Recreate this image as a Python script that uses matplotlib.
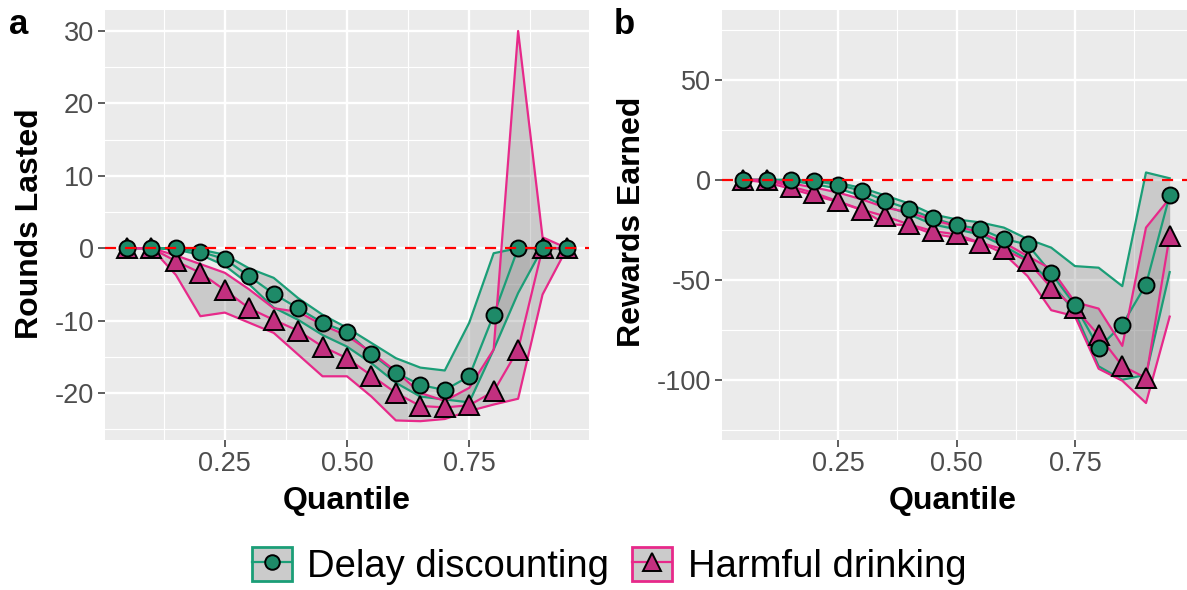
import matplotlib
matplotlib.use("Agg")
import matplotlib.pyplot as plt
from matplotlib.patches import Patch
from matplotlib.lines import Line2D

plt.rcParams['font.family'] = ['Liberation Sans', 'DejaVu Sans']
plt.rcParams['axes.unicode_minus'] = False

# ---------------- data ----------------
quantile = [0.05, 0.10, 0.15, 0.20, 0.25, 0.30, 0.35, 0.40, 0.45, 0.50,
            0.55, 0.60, 0.65, 0.70, 0.75, 0.80, 0.85, 0.90, 0.95]

# Panel a: Rounds Lasted
rounds_dd_mean = [0, 0, 0, -0.5, -1.5, -3.9, -6.3, -8.3, -10.3, -11.6,
                  -14.6, -17.2, -18.9, -19.6, -17.7, -9.2, 0, 0, 0]
rounds_dd_upper = [0, 0, 0, -0.2, -0.9, -2.8, -4.1, -6.9, -9.2, -11.0,
                   -13.1, -15.2, -16.5, -16.9, -10.3, -0.7, 0, 0, 0]
rounds_dd_lower = [0, 0, -0.2, -0.9, -2.4, -5.0, -8.2, -9.9, -12.0, -13.6,
                   -15.9, -18.6, -20.5, -20.9, -21.3, -14.0, -6.2, 0, 0]
rounds_hd_mean = [0, 0, -1.8, -3.4, -5.8, -8.3, -9.9, -11.4, -13.6, -15.2,
                  -17.6, -20.0, -21.8, -22.0, -21.7, -19.8, -14.0, 0, 0]
rounds_hd_upper = [0, 0, -1.0, -2.2, -3.4, -5.7, -8.3, -8.8, -10.6, -12.1,
                   -14.4, -17.0, -20.0, -21.1, -19.3, -14.0, 30.0, 1.5, 0]
rounds_hd_lower = [0, 0, -3.7, -9.4, -8.9, -10.3, -11.7, -14.7, -17.7, -17.7,
                   -20.5, -23.8, -23.9, -23.6, -22.5, -21.6, -20.8, -6.4, 0]

# Panel b: Rewards Earned
rewards_dd_mean = [0, 0, 0, -0.6, -2.4, -5.5, -10.5, -14.5, -19.2, -22.5,
                   -24.5, -29.5, -32.2, -46.5, -62.5, -83.8, -72.2, -52.2, -7.7]
rewards_dd_upper = [0, 0, 0, -0.5, -1.5, -4.0, -7.8, -11.8, -17.2, -19.7,
                    -21.2, -23.8, -29.5, -33.8, -43.0, -43.8, -53.0, 3.7, 0.8]
rewards_dd_lower = [0, 0, -0.5, -2.2, -4.3, -8.0, -13.0, -17.2, -22.2, -24.7,
                    -27.2, -33.0, -39.7, -51.3, -66.0, -93.0, -99.7, -97.2, -46.0]
rewards_hd_mean = [0, 0, -3.3, -6.5, -10.7, -14.8, -18.2, -22.2, -25.5, -27.2,
                   -31.3, -34.7, -40.5, -53.8, -64.0, -77.5, -92.8, -98.8, -27.8]
rewards_hd_upper = [0, 0, -1.7, -3.8, -6.3, -9.7, -13.8, -16.3, -20.0, -23.0,
                    -26.3, -31.3, -38.0, -44.5, -61.0, -64.2, -82.8, -23.8, -9.2]
rewards_hd_lower = [0, -1.3, -4.4, -7.8, -11.0, -15.0, -22.0, -22.7, -27.0, -28.8,
                    -31.3, -36.8, -48.0, -65.0, -68.0, -94.2, -100.2, -111.3, -68.2]

group_labels = ["Delay discounting", "Harmful drinking"]
x_ticks = [0.25, 0.50, 0.75]
x_ticklabels = ["0.25", "0.50", "0.75"]
a_yticks = [-20, -10, 0, 10, 20, 30]
b_yticks = [-100, -50, 0, 50]
panel_titles = ["Rounds Lasted", "Rewards Earned"]
panel_tags = ["a", "b"]

# ---------------- style ----------------
GREEN = "#1B9E77"
PINK = "#E7298A"
GREEN_FILL = "#1E8A68"
PINK_FILL = "#C2307F"
PANEL = "#EBEBEB"

W, H = 1187, 590
fig = plt.figure(figsize=(W / 100, H / 100), dpi=100)


def ax_at(l, r, t, b):
    return fig.add_axes([l / W, 1 - b / H, (r - l) / W, (b - t) / H])


axA = ax_at(105, 589, 10, 440)
axB = ax_at(722, 1191, 10, 440)


def draw(ax, dd, hd, ylim, yticks):
    ax.set_facecolor(PANEL)
    for s in ax.spines.values():
        s.set_visible(False)
    ax.set_axisbelow(True)
    # ribbons
    for (m, u, lo), col in ((dd, GREEN), (hd, PINK)):
        ax.fill_between(quantile, lo, u, color="#7F7F7F", alpha=0.3, lw=0, zorder=2)
    for (m, u, lo), col in ((dd, GREEN), (hd, PINK)):
        ax.plot(quantile, u, color=col, lw=1.6, zorder=3)
        ax.plot(quantile, lo, color=col, lw=1.6, zorder=3)
        ax.plot(quantile, m, color=col, lw=1.6, zorder=3)
    ax.plot(quantile, hd[0], ls="none", marker="^", ms=14, mfc=PINK_FILL,
            mec="black", mew=1.4, zorder=4)
    ax.plot(quantile, dd[0], ls="none", marker="o", ms=11.5, mfc=GREEN_FILL,
            mec="black", mew=1.4, zorder=4)
    ax.axhline(0, color="#FF0000", lw=1.6, ls=(0, (5, 4)), zorder=5)

    ax.set_xlim(0.005, 0.995)
    ax.set_xticks(x_ticks)
    ax.set_xticklabels(x_ticklabels)
    ax.set_xticks([(x_ticks[0] - 0.125)] + [(a + b) / 2 for a, b in zip(x_ticks[:-1], x_ticks[1:])] + [x_ticks[-1] + 0.125], minor=True)
    ax.set_yticks(yticks)
    ax.set_yticklabels([str(v) for v in yticks])
    step = yticks[1] - yticks[0]
    ax.set_yticks([yticks[0] - step / 2] + [v + step / 2 for v in yticks], minor=True)
    ax.set_ylim(*ylim)
    ax.grid(which="major", color="white", lw=1.7)
    ax.grid(which="minor", color="white", lw=0.8)
    ax.tick_params(which="major", length=5, width=1.1, color="#333333",
                   labelcolor="#4D4D4D", labelsize=19.5, pad=3)
    ax.tick_params(which="minor", length=0)


draw(axA, (rounds_dd_mean, rounds_dd_upper, rounds_dd_lower),
     (rounds_hd_mean, rounds_hd_upper, rounds_hd_lower), (-26.5, 32.9), a_yticks)
draw(axB, (rewards_dd_mean, rewards_dd_upper, rewards_dd_lower),
     (rewards_hd_mean, rewards_hd_upper, rewards_hd_lower), (-129.75, 84.75), b_yticks)

# axis titles
fig.text(30 / W, 1 - 224 / H, panel_titles[0], rotation=90, ha="center", va="center",
         fontsize=23, fontweight="bold")
fig.text(632 / W, 1 - 222 / H, panel_titles[1], rotation=90, ha="center", va="center",
         fontsize=23, fontweight="bold")
fig.text(347 / W, 1 - 501 / H, "Quantile", ha="center", va="center",
         fontsize=23, fontweight="bold")
fig.text(953 / W, 1 - 501 / H, "Quantile", ha="center", va="center",
         fontsize=23, fontweight="bold")
fig.text(19 / W, 1 - 24 / H, panel_tags[0], ha="center", va="center",
         fontsize=25, fontweight="bold")
fig.text(624 / W, 1 - 24 / H, panel_tags[1], ha="center", va="center",
         fontsize=25, fontweight="bold")

# legend
handles = []
for col, fillc, mk, ms in ((GREEN, GREEN_FILL, "o", 10.5), (PINK, PINK_FILL, "^", 12.5)):
    p = Patch(facecolor="#CBCBCB", edgecolor=col, lw=2)
    ln = Line2D([], [], color=col, lw=1.6, marker=mk, ms=ms, mfc=fillc, mec="black", mew=1.4)
    handles.append((p, ln))
fig.legend(handles, group_labels, loc="center", bbox_to_anchor=(609 / W, 1 - 566 / H),
           ncol=2, frameon=False, fontsize=27.5, handlelength=1.05, handleheight=1.0,
           handletextpad=0.4, columnspacing=0.6, borderpad=0, borderaxespad=0)

fig.savefig("out.png", dpi=100)
